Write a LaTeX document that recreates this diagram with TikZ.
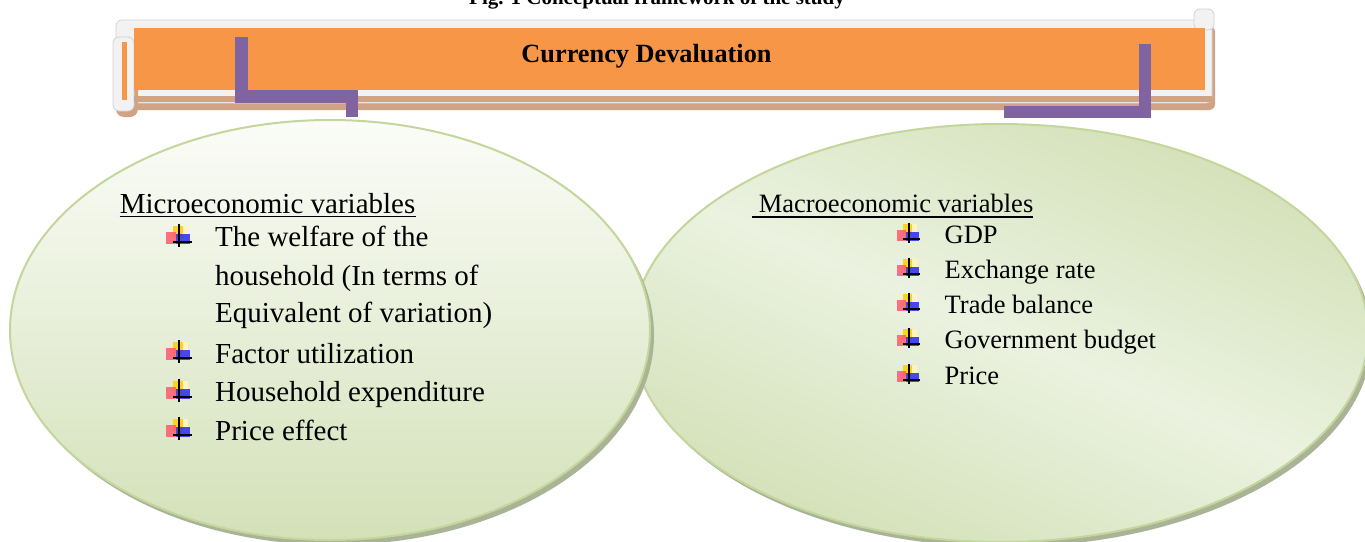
\documentclass[tikz,border=0pt]{standalone}
\usepackage{fontspec}
\setmainfont{Liberation Serif}
\usetikzlibrary{shapes.geometric}
\definecolor{orange1}{HTML}{F79646}
\definecolor{purp}{HTML}{8064A2}
\definecolor{tan1}{HTML}{CFA384}
\definecolor{scroll}{HTML}{F2F2F2}
\definecolor{ellb}{HTML}{C3D69B}
\definecolor{gA}{HTML}{D3E1B8}
\definecolor{gB}{HTML}{FBFCF8}
\definecolor{gC}{HTML}{EBF2E0}
\definecolor{shad}{HTML}{A9B396}
\definecolor{bulY}{HTML}{FFD21F}
\definecolor{bulY2}{HTML}{FFF3C4}
\definecolor{bulR}{HTML}{FF5A6E}
\definecolor{bulB}{HTML}{2A2AF0}
\pgfdeclarehorizontalshading{band}{100bp}{color(0bp)=(gA); color(25bp)=(gA); color(50bp)=(gC); color(75bp)=(gA); color(100bp)=(gA)}
\tikzset{
  pics/bullet/.style={code={
    \fill[bulY] (7,-21) rectangle (17,-9);
    \fill[bulY2] (17,-21) rectangle (22,-9);
    \fill[bulR, opacity=.85] (0,-15) rectangle (10,-3);
    \fill[bulB, opacity=.85] (10,-13) rectangle (24,-3);
    \draw[black, line width=1.6pt] (13,-23) -- (13,0);
    \draw[black, line width=1.6pt] (7,-5) -- (26,-5);
  }},
  lt/.style={anchor=base west, inner sep=0pt, font=\fontsize{29}{35}\selectfont},
  rt/.style={anchor=base west, inner sep=0pt, font=\fontsize{26.5}{32}\selectfont},
  conn/.style={draw=purp, line width=12.5pt, line join=miter},
  scr/.style={fill=scroll, draw=gray!35, line width=0.8pt, rounded corners=6pt},
  ell/.style={ellipse, draw=ellb, line width=2pt, inner sep=0pt},
  uline/.style={line width=1.8pt}
}
\begin{document}
\begin{tikzpicture}[x=1pt,y=-1pt]
\useasboundingbox (0,0) rectangle (1365,541);
\clip (0,0) rectangle (1365,541);
\fill[white] (0,0) rectangle (1365,541);
% title (cut off at top, as in the reference)
\node[anchor=base, inner sep=0pt, font=\bfseries\fontsize{21}{25}\selectfont] (title) at (657,4.5) {Fig. 1 Conceptual framework of the study};
% banner
\fill[tan1, rounded corners=6pt] (120,26) rectangle (1215,110);
\path[scr] (116,20) rectangle (1212,103);
\path[scr] (1194,9) rectangle (1214,30);
\fill[tan1, rounded corners=8pt] (116,42) rectangle (138,117);
\path[scr] (113,37) rectangle (134,111);
\fill[orange1] (122,42) rectangle (127,100);
\fill[tan1] (134,96) rectangle (1212,102);
\node[fill=orange1, minimum width=1071pt, minimum height=62pt, inner sep=0pt, anchor=north west] (cd) at (134,28) {};
\node[anchor=base, inner sep=0pt, font=\bfseries\fontsize{26.3}{30}\selectfont] (cdt) at (646.5,62) {Currency Devaluation};
% ellipses
\fill[shad] (1004,338) ellipse [x radius=368, y radius=209];
\node[ell, minimum width=736pt, minimum height=418pt, shading=band, shading angle=67] (macro) at (1000,333) {};
\fill[shad] (334,335) ellipse [x radius=320, y radius=210];
\node[ell, minimum width=640pt, minimum height=420pt, top color=gB, bottom color=gA] (micro) at (330,330) {};
% connectors
\coordinate (c1) at (241.5,37);
\coordinate (c1e) at (352,117);
\draw[conn] (c1) -- (c1 |- 0,96.5) -- (c1e |- 0,96.5) -- (c1e);
\coordinate (c2) at (1145,44);
\coordinate (c2e) at (1004,112);
\draw[conn] (c2) |- (c2e);
% left text
\node[lt] (mh) at (119.6,213) {Microeconomic variables};
\draw[uline] ([yshift=-3.5pt]mh.base west) -- ([yshift=-3.5pt]mh.base east);
\pic at (166,246.7) {bullet};
\node[lt] (l1a) at (215,246.7) {The welfare of the};
\node[lt] (l1b) at (215,285) {household (In terms of};
\node[lt] (l1c) at (215,322.7) {Equivalent of variation)};
\pic at (166,363) {bullet};
\node[lt] (l2) at (215,363) {Factor utilization};
\pic at (166,401.7) {bullet};
\node[lt] (l3) at (215,401.7) {Household expenditure};
\pic at (166,440) {bullet};
\node[lt] (l4) at (215,440) {Price effect};
% right text
\node[rt] (Mh) at (752,212.7) {\ Macroeconomic variables};
\draw[uline] ([yshift=-4pt]Mh.base west) -- ([yshift=-4pt]Mh.base east);
\pic[scale=0.9] at (897,243.3) {bullet};
\node[rt] (r1) at (944.5,243.3) {GDP};
\pic[scale=0.9] at (897,278.3) {bullet};
\node[rt] (r2) at (944.5,278.3) {Exchange rate};
\pic[scale=0.9] at (897,313.3) {bullet};
\node[rt] (r3) at (944.5,313.3) {Trade balance};
\pic[scale=0.9] at (897,348.3) {bullet};
\node[rt] (r4) at (944.5,348.3) {Government budget};
\pic[scale=0.9] at (897,384.3) {bullet};
\node[rt] (r5) at (944.5,384.3) {Price};
\end{tikzpicture}
\end{document}
